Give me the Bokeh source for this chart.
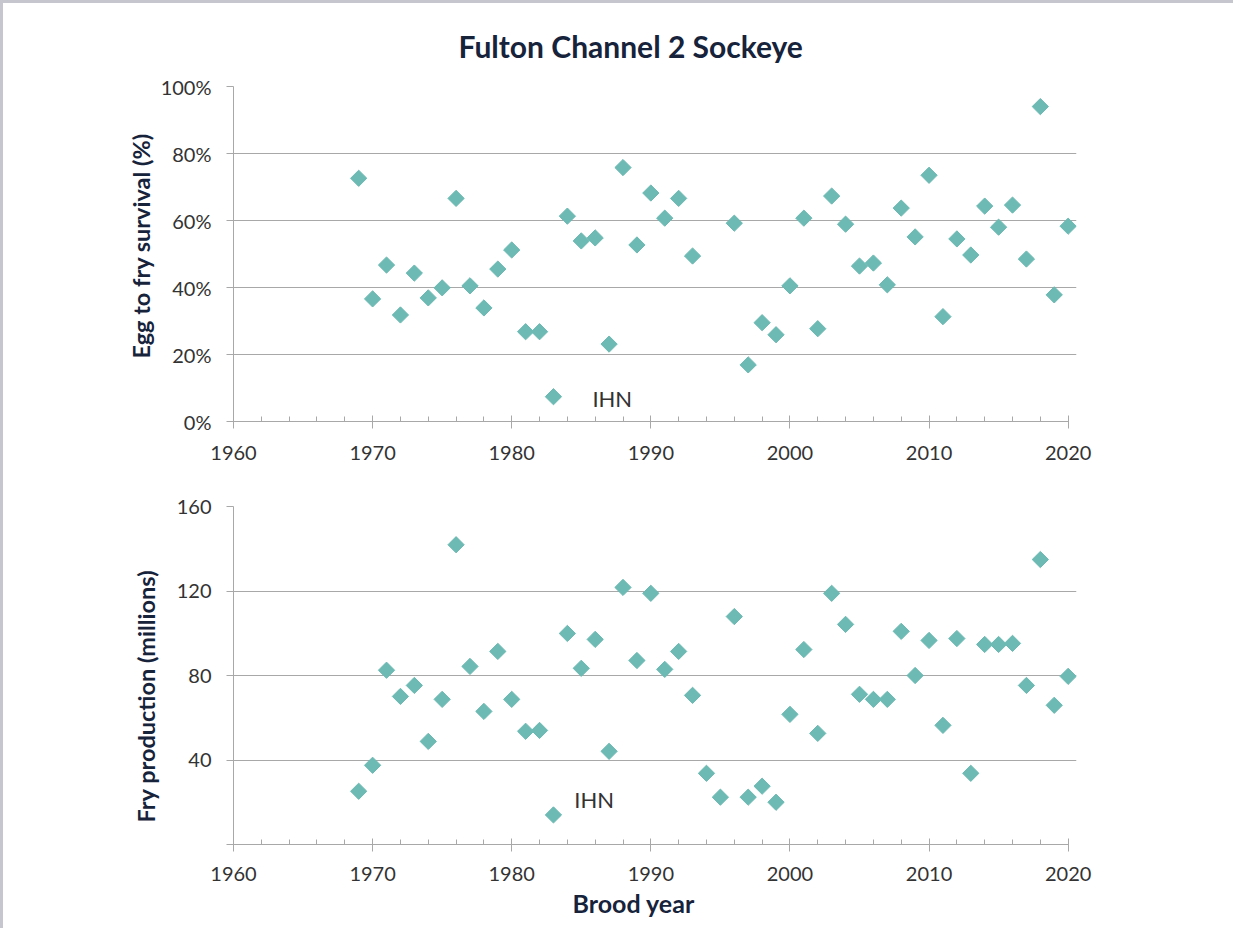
import numpy as np
from bokeh.plotting import figure
from bokeh.layouts import column
from bokeh.models import (ColumnDataSource, Range1d, SingleIntervalTicker, FixedTicker,
                          Label, Title, NumeralTickFormatter)
from bokeh.embed import file_html
from bokeh.resources import INLINE

# ---------------- data ----------------
surv_years = [1969, 1970, 1971, 1972, 1973, 1974, 1975, 1976, 1977, 1978, 1979, 1980,
              1981, 1982, 1983, 1984, 1985, 1986, 1987, 1988, 1989, 1990, 1991, 1992,
              1993, 1996, 1997, 1998, 1999, 2000, 2001, 2002, 2003, 2004, 2005, 2006,
              2007, 2008, 2009, 2010, 2011, 2012, 2013, 2014, 2015, 2016, 2017, 2018,
              2019, 2020]
surv_pct = [72.6, 36.6, 46.7, 31.8, 44.3, 36.9, 39.9, 66.6, 40.5, 33.9, 45.5, 51.2,
            26.8, 26.8, 7.4, 61.3, 53.9, 54.8, 23.1, 75.8, 52.7, 68.2, 60.7, 66.6,
            49.4, 59.2, 16.9, 29.5, 25.9, 40.5, 60.7, 27.7, 67.3, 58.9, 46.4, 47.3,
            40.8, 63.7, 55.1, 73.5, 31.3, 54.5, 49.7, 64.3, 58.0, 64.6, 48.5, 94.0,
            37.8, 58.3]

fry_years = [1969, 1970, 1971, 1972, 1973, 1974, 1975, 1976, 1977, 1978, 1979, 1980,
             1981, 1982, 1983, 1984, 1985, 1986, 1987, 1988, 1989, 1990, 1991, 1992,
             1993, 1994, 1995, 1996, 1997, 1998, 1999, 2000, 2001, 2002, 2003, 2004,
             2005, 2006, 2007, 2008, 2009, 2010, 2011, 2012, 2013, 2014, 2015, 2016,
             2017, 2018, 2019, 2020]
fry_millions = [25.2, 37.5, 82.5, 70.1, 75.3, 48.8, 68.7, 141.9, 84.3, 63.0, 91.4, 68.7,
                53.6, 54.0, 14.0, 99.9, 83.4, 97.1, 44.1, 121.7, 87.1, 118.9, 82.9, 91.4,
                70.6, 33.7, 22.4, 107.9, 22.4, 27.6, 20.0, 61.6, 92.3, 52.6, 118.9, 104.2,
                71.1, 68.7, 68.7, 100.9, 80.0, 96.6, 56.4, 97.5, 33.7, 94.7, 94.7, 95.2,
                75.3, 134.9, 65.9, 79.6]

title_text = "Fulton Channel 2 Sockeye"
ylabel_top = "Egg to fry survival (%)"
ylabel_bottom = "Fry production (millions)"
xlabel = "Brood year"
note_text = "IHN"

# ---------------- styles ----------------
TEAL = "#6cbab3"
GRID = "#a8a8a8"
TICKTXT = "#333333"
NAVY = "#16233b"
FONT = "Lato"

W = 1230


def style(p, yticks, xstandoff):
    p.outline_line_color = None
    p.xgrid.grid_line_color = None
    p.ygrid.grid_line_color = GRID
    p.ygrid.grid_line_width = 1
    p.background_fill_color = "white"
    p.border_fill_color = "white"
    xa = p.xaxis[0]
    xa.ticker = SingleIntervalTicker(interval=10, num_minor_ticks=5)
    xa.bounds = (1960, 2020)
    xa.axis_line_color = GRID
    xa.major_tick_line_color = GRID
    xa.minor_tick_line_color = GRID
    xa.major_tick_in = 6
    xa.major_tick_out = 7
    xa.minor_tick_in = 5
    xa.minor_tick_out = 0
    xa.major_label_text_font = FONT
    xa.major_label_text_font_size = "20px"
    xa.major_label_text_color = TICKTXT
    xa.major_label_standoff = xstandoff
    ya = p.yaxis[0]
    ya.ticker = FixedTicker(ticks=yticks)
    ya.axis_line_color = GRID
    ya.major_tick_line_color = GRID
    ya.minor_tick_line_color = None
    ya.major_tick_in = 0
    ya.major_tick_out = 7
    ya.major_label_text_font = FONT
    ya.major_label_text_font_size = "20px"
    ya.major_label_text_color = TICKTXT
    ya.major_label_standoff = 15


# ---------------- top chart ----------------
p1 = figure(width=W, height=459, output_backend="svg", toolbar_location=None,
            x_range=Range1d(1960, 2020.6), y_range=Range1d(0, 100),
            min_border_left=230, min_border_right=W - 230 - 851,
            min_border_top=83, min_border_bottom=40)
style(p1, [0, 20, 40, 60, 80, 100], 17)
p1.yaxis[0].formatter = NumeralTickFormatter(format="0")
p1.yaxis[0].major_label_overrides = {v: f"{v}%" for v in [0, 20, 40, 60, 80, 100]}

src1 = ColumnDataSource(dict(x=surv_years, y=surv_pct))
p1.scatter("x", "y", source=src1, marker="square", angle=np.pi / 4, size=11.5,
           fill_color=TEAL, line_color=TEAL)
p1.add_layout(Label(x=1985.8, y=6.8, text=note_text, text_font=FONT,
                    text_font_size="22px", text_color=TICKTXT,
                    text_baseline="middle", text_align="left"))

t1 = Title(text=title_text, align="left", offset=225, text_font=FONT,
           text_font_size="30px", text_font_style="bold", text_color=NAVY, standoff=45)
p1.add_layout(t1, "above")
yl1 = Title(text=ylabel_top, align="left", offset=63, text_font=FONT,
            text_font_size="23.5px", text_font_style="bold", text_color=NAVY, standoff=5)
p1.add_layout(yl1, "left")

# ---------------- bottom chart ----------------
p2 = figure(width=W, height=466, output_backend="svg", toolbar_location=None,
            x_range=Range1d(1960, 2020.6), y_range=Range1d(0, 160),
            min_border_left=230, min_border_right=W - 230 - 843,
            min_border_top=44, min_border_bottom=84)
style(p2, [0, 40, 80, 120, 160], 15)
p2.yaxis[0].major_label_overrides = {0: ""}

src2 = ColumnDataSource(dict(x=fry_years, y=fry_millions))
p2.scatter("x", "y", source=src2, marker="square", angle=np.pi / 4, size=11.5,
           fill_color=TEAL, line_color=TEAL)
p2.add_layout(Label(x=1984.5, y=21.4, text=note_text, text_font=FONT,
                    text_font_size="22px", text_color=TICKTXT,
                    text_baseline="middle", text_align="left"))

yl2 = Title(text=ylabel_bottom, align="left", offset=22, text_font=FONT,
            text_font_size="23.5px", text_font_style="bold", text_color=NAVY, standoff=28)
p2.add_layout(yl2, "left")
xl2 = Title(text=xlabel, align="left", offset=339, text_font=FONT,
            text_font_size="25px", text_font_style="bold", text_color=NAVY, standoff=9,
            vertical_align="top")
p2.add_layout(xl2, "below")

layout = column(p1, p2, spacing=0,
                styles={"border-top": "3px solid #c6c6ce", "border-left": "3px solid #c6c6ce"})

open("out.html", "w").write(file_html(layout, INLINE))
